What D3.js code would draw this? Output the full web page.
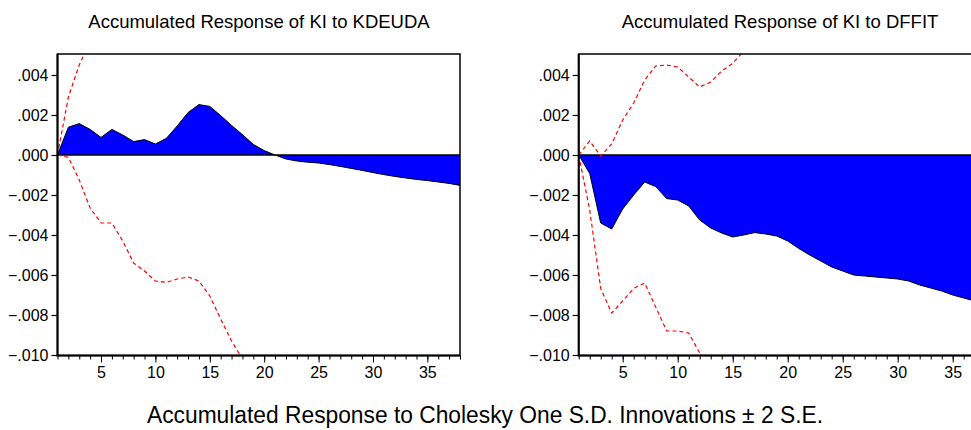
<!DOCTYPE html>
<html>
<head>
<meta charset="utf-8">
<script src="https://cdn.jsdelivr.net/npm/d3@7"></script>
<style>
  body { margin: 0; background: #fff; }
  svg { display: block; font-family: "Liberation Sans", Arial, sans-serif; }
</style>
</head>
<body>
<div id="chart"></div>
<script>
// periods 1..38
var periods = [1,2,3,4,5,6,7,8,9,10,11,12,13,14,15,16,17,18,19,20,
  21,22,23,24,25,26,27,28,29,30,31,32,33,34,35,36,37,38];
var xTicks = [5, 10, 15, 20, 25, 30, 35];
var yTicks = [0.004, 0.002, 0, -0.002, -0.004, -0.006, -0.008, -0.010];

// KI to KDEUDA
var kdeudaResp = [0, 0.00139, 0.00157, 0.00128, 0.00088, 0.00128, 0.00100, 0.00067, 0.00077, 0.00055,
  0.00083, 0.00145, 0.00212, 0.00252, 0.00243, 0.00197, 0.00148, 0.00102, 0.00053, 0.00022,
  0.0, -0.0002, -0.0003, -0.00036, -0.0004, -0.00048, -0.00057, -0.00067, -0.00077, -0.00088,
  -0.00098, -0.00107, -0.00115, -0.00122, -0.00128, -0.00135, -0.00142, -0.00152];
var kdeudaUpper = [0, 0.0029, 0.0045, 0.0057, 0.0066, 0.0072, 0.0078, 0.0083, 0.0088, 0.0092,
  0.0096, 0.0100, 0.0105, 0.0110, 0.0113, 0.0115, 0.0116, 0.0116, 0.0115, 0.0114,
  0.0113, 0.0112, 0.0111, 0.0110, 0.0109, 0.0108, 0.0107, 0.0106, 0.0105, 0.0104,
  0.0103, 0.0102, 0.0101, 0.0100, 0.0099, 0.0098, 0.0097, 0.0096];
var kdeudaLower = [0, -0.00012, -0.00125, -0.00265, -0.0034, -0.0034, -0.0043, -0.0054, -0.0058, -0.0063,
  -0.00637, -0.0062, -0.0061, -0.0063, -0.00705, -0.0082, -0.0093, -0.0102, -0.0110, -0.0116,
  -0.0120, -0.0123, -0.0125, -0.0127, -0.0129, -0.0131, -0.0133, -0.0135, -0.0137, -0.0139,
  -0.0141, -0.0143, -0.0145, -0.0147, -0.0149, -0.0151, -0.0153, -0.0155];

// KI to DFFIT
var dffitResp = [0, -0.00092, -0.0034, -0.0037, -0.0027, -0.0020, -0.00135, -0.00158, -0.00218, -0.00225,
  -0.00255, -0.00325, -0.00365, -0.0039, -0.0041, -0.0040, -0.00388, -0.00395, -0.00405, -0.0043,
  -0.00467, -0.0050, -0.0053, -0.0056, -0.0058, -0.0060, -0.00605, -0.0061, -0.00615, -0.0062,
  -0.0063, -0.0065, -0.00665, -0.0068, -0.0070, -0.00715, -0.0073, -0.0075];
var dffitUpper = [0, 0.0007, -0.00005, 0.00055, 0.00175, 0.0026, 0.00375, 0.00445, 0.0045, 0.0044,
  0.0039, 0.0034, 0.00365, 0.0042, 0.00458, 0.0052, 0.0057, 0.0061, 0.0064, 0.0066,
  0.0067, 0.0068, 0.0069, 0.0070, 0.0071, 0.0072, 0.0073, 0.0074, 0.0075, 0.0076,
  0.0077, 0.0078, 0.0079, 0.0080, 0.0081, 0.0082, 0.0083, 0.0084];
var dffitLower = [0, -0.00275, -0.00667, -0.0079, -0.0073, -0.00667, -0.0064, -0.0076, -0.0088, -0.0088,
  -0.0089, -0.0099, -0.0108, -0.0116, -0.0122, -0.0126, -0.0129, -0.0132, -0.0135, -0.0138,
  -0.0141, -0.0144, -0.0147, -0.0150, -0.0153, -0.0156, -0.0159, -0.0162, -0.0165, -0.0168,
  -0.0171, -0.0174, -0.0177, -0.0180, -0.0183, -0.0186, -0.0189, -0.0192];

var W = 971, H = 430;
var svg = d3.select("#chart")
  .append("svg")
    .attr("width", W)
    .attr("height", H);

function panel(id, title, resp, upper, lower, left, right, titleX) {
  var top = 54, bottom = 355.5;
  var x = d3.scaleLinear().domain([1, 38]).range([left, right]);
  var y = d3.scaleLinear().domain([-0.010, 0.004]).range([355, 75]);
  var g = svg.append("g");

  g.append("clipPath").attr("id", "clip" + id)
    .append("rect")
      .attr("x", left).attr("y", top)
      .attr("width", right - left).attr("height", bottom - top);

  var data = periods.map(function(p, i) {
    return {t: p, r: resp[i], u: upper[i], l: lower[i]};
  });

  var plot = g.append("g").attr("clip-path", "url(#clip" + id + ")");

  // shaded response
  plot.append("path")
    .datum(data)
    .attr("fill", "#0000ff")
    .attr("d", d3.area()
      .x(function(d) { return x(d.t); })
      .y0(y(0))
      .y1(function(d) { return y(d.r); }));

  plot.append("path")
    .datum(data)
    .attr("fill", "none")
    .attr("stroke", "#000")
    .attr("stroke-width", 1)
    .attr("d", d3.line()
      .x(function(d) { return x(d.t); })
      .y(function(d) { return y(d.r); }));

  // zero line
  plot.append("line")
    .attr("x1", left).attr("x2", right)
    .attr("y1", y(0)).attr("y2", y(0))
    .attr("stroke", "#000")
    .attr("stroke-width", 1.5);

  // +-2 S.E. bands
  ["u", "l"].forEach(function(k) {
    plot.append("path")
      .datum(data)
      .attr("fill", "none")
      .attr("stroke", "#ff0000")
      .attr("stroke-width", 1.2)
      .attr("stroke-dasharray", "4,3")
      .attr("d", d3.line()
        .x(function(d) { return x(d.t); })
        .y(function(d) { return y(d[k]); }));
  });

  // frame
  g.append("rect")
    .attr("x", left).attr("y", top)
    .attr("width", right - left).attr("height", bottom - top)
    .attr("fill", "none")
    .attr("stroke", "#000")
    .attr("stroke-width", 1.5);
  // heavier axis lines left and bottom
  g.append("path")
    .attr("d", "M" + left + "," + top + "V" + bottom + "H" + right)
    .attr("fill", "none")
    .attr("stroke", "#000")
    .attr("stroke-width", 2);

  // y axis
  var yAxis = g.append("g")
    .attr("transform", "translate(" + left + ",0)")
    .call(d3.axisLeft(y)
      .tickValues(yTicks)
      .tickSize(6)
      .tickPadding(3)
      .tickFormat(function(d) { return d3.format(".3f")(d).replace("0.", ".").replace("-0.", "-."); }));
  yAxis.select(".domain").remove();
  yAxis.attr("font-size", 16);
  yAxis.selectAll("line").attr("stroke-width", 1.2);
  yAxis.selectAll("text")
    .style("font-size", "16px")
    .style("font-family", "Liberation Sans, Arial, sans-serif")
    .attr("fill", "#000");

  // x axis minor + major
  var xMinor = g.append("g")
    .attr("transform", "translate(0," + bottom + ")")
    .call(d3.axisBottom(x).tickValues(periods).tickSize(4).tickFormat(""));
  xMinor.select(".domain").remove();

  var xAxis = g.append("g")
    .attr("transform", "translate(0," + bottom + ")")
    .call(d3.axisBottom(x).tickValues(xTicks).tickSize(7).tickPadding(4));
  xAxis.select(".domain").remove();
  xAxis.attr("font-size", 16);
  xAxis.selectAll("text")
    .style("font-size", "16px")
    .style("font-family", "Liberation Sans, Arial, sans-serif")
    .attr("fill", "#000");

  // title
  g.append("text")
    .attr("x", titleX)
    .attr("y", 28)
    .attr("text-anchor", "middle")
    .style("font-size", "18.5px")
    .text(title);
}

panel("a", "Accumulated Response of KI to KDEUDA", kdeudaResp, kdeudaUpper, kdeudaLower, 57.5, 460, 259);
panel("b", "Accumulated Response of KI to DFFIT", dffitResp, dffitUpper, dffitLower, 578.7, 985.7, 780);

svg.append("text")
  .attr("x", 485)
  .attr("y", 423)
  .attr("text-anchor", "middle")
  .attr("textLength", 676)
  .attr("lengthAdjust", "spacingAndGlyphs")
  .style("font-size", "23px")
  .text("Accumulated Response to Cholesky One S.D. Innovations \u00b1 2 S.E.");
</script>
</body>
</html>
